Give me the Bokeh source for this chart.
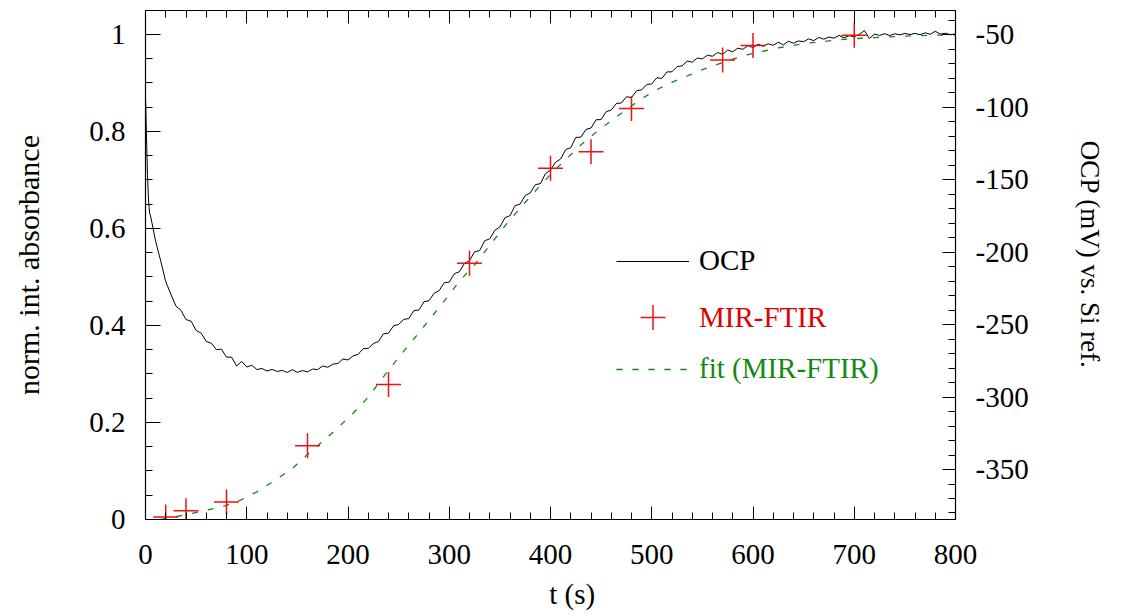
from bokeh.plotting import figure
from bokeh.models import (Range1d, LinearAxis, SingleIntervalTicker,
                          CustomJSTickFormatter, Legend, LegendItem)
from bokeh.embed import file_html
from bokeh.resources import INLINE

# ---------------- data ----------------
# OCP (mV vs. Si ref.)
ocp_t = [0, 1, 2, 3, 4] + list(range(5, 801, 5))
ocp_mv = [
    -92.0, -121.0, -147.0, -164.0, -173.0,
    -175.0, -192.5, -206.0, -220.4, -228.9, -237.2, -240.1, -246.5, -247.6, -254.0,
    -255.9, -261.7, -262.8, -267.3, -266.9, -272.4, -272.5, -278.6, -275.4, -279.3,
    -278.0, -281.0, -280.3, -282.0, -280.9, -282.3, -281.6, -283.0, -281.1, -282.9,
    -281.7, -282.6, -280.7, -281.0, -278.6, -279.4, -277.3, -276.8, -273.7, -274.4,
    -271.6, -270.5, -266.6, -266.4, -263.1, -261.6, -256.4, -255.9, -250.8, -249.9,
    -246.4, -245.8, -240.4, -239.9, -234.2, -233.5, -228.4, -226.6, -221.1, -220.7,
    -214.9, -213.5, -207.8, -205.9, -199.7, -198.9, -192.1, -190.8, -184.9, -182.6,
    -176.2, -174.8, -167.9, -166.8, -160.9, -159.1, -153.4, -152.7, -145.8, -143.3,
    -137.9, -135.7, -129.2, -127.9, -120.8, -120.6, -115.3, -114.3, -108.6, -108.5,
    -103.0, -101.9, -97.4, -97.0, -92.7, -93.3, -88.6, -88.0, -84.3, -83.9,
    -79.6, -80.1, -75.6, -75.5, -72.0, -71.4, -68.1, -68.9, -66.0, -66.6,
    -64.0, -64.8, -62.2, -63.5, -60.5, -61.7, -59.2, -60.0, -57.4, -58.9,
    -56.4, -57.9, -56.2, -57.2, -55.1, -56.9, -54.4, -55.8, -54.2, -54.7,
    -52.8, -54.0, -51.8, -53.0, -51.5, -52.3, -50.4, -52.0, -50.6, -51.3,
    -49.7, -47.0, -52.5, -49.5, -50.4, -49.2, -50.5, -49.3, -50.0, -49.0,
    -49.8, -49.0, -49.9, -48.6, -49.6, -47.5, -49.5, -48.9, -49.9, -49.4,
]

# MIR-FTIR normalised integrated absorbance
ftir_t = [20, 40, 80, 160, 240, 320, 400, 440, 480, 570, 600, 700]
ftir_abs = [0.005, 0.018, 0.036, 0.152, 0.278, 0.528, 0.724, 0.758, 0.847, 0.947, 0.977, 0.998]

# fit (MIR-FTIR)
fit_t = [15, 20, 40, 60, 80, 95, 110, 125, 145, 160, 175, 190, 205, 220, 235, 250,
         265, 280, 295, 310, 325, 340, 355, 370, 385, 400, 415, 430, 445, 460, 475,
         490, 505, 520, 535, 550, 565, 580, 595, 610, 625, 640, 655, 670, 685, 700,
         720, 740, 760, 780, 800]
fit_abs = [0.000, 0.002, 0.010, 0.019, 0.029, 0.041, 0.057, 0.077, 0.105, 0.134,
           0.161, 0.189, 0.219, 0.252, 0.294, 0.334, 0.372, 0.411, 0.450, 0.491,
           0.525, 0.565, 0.605, 0.642, 0.677, 0.711, 0.742, 0.772, 0.798, 0.822,
           0.845, 0.867, 0.886, 0.901, 0.914, 0.927, 0.938, 0.949, 0.958, 0.965,
           0.972, 0.977, 0.982, 0.985, 0.989, 0.991, 0.993, 0.995, 0.997, 0.998,
           0.999]

# ---------------- figure ----------------
FONT = "Liberation Serif"
FS = "29px"
NB = "\u00a0"

p = figure(width=1125, height=615, output_backend="svg", toolbar_location=None,
           x_range=Range1d(0, 800), y_range=Range1d(0, 1.049),
           min_border_left=145, min_border_right=170,
           min_border_top=10, min_border_bottom=96)
p.extra_y_ranges = {"ocp": Range1d(-384.5, -33.2)}
p.xgrid.visible = False
p.ygrid.visible = False
p.outline_line_color = None
p.background_fill_color = "white"
p.border_fill_color = "white"


def style(ax, major_in=13, minor_in=7, label_fs=FS):
    ax.axis_line_color = "black"
    ax.axis_line_width = 1.2
    ax.major_tick_line_color = "black"
    ax.minor_tick_line_color = "black"
    ax.major_tick_in = major_in
    ax.major_tick_out = 0
    ax.minor_tick_in = minor_in
    ax.minor_tick_out = 0
    ax.major_label_text_font = FONT
    ax.major_label_text_font_size = FS
    ax.major_label_text_color = "black"
    ax.axis_label_text_font = FONT
    ax.axis_label_text_font_size = label_fs
    ax.axis_label_text_font_style = "normal"
    ax.axis_label_text_color = "black"


# bottom axis
xax = p.xaxis[0]
xax.ticker = SingleIntervalTicker(interval=100, num_minor_ticks=5)
style(xax)
xax.axis_label = NB * 6 + "t (s)"
xax.major_label_standoff = 25
xax.axis_label_standoff = 11

# left axis
yax = p.yaxis[0]
yax.ticker = SingleIntervalTicker(interval=0.2, num_minor_ticks=4)
yax.formatter = CustomJSTickFormatter(code="return Number(tick.toFixed(2)).toString()")
style(yax, major_in=15, minor_in=7, label_fs="30px")
yax.axis_label = "norm. int. absorbance"
yax.major_label_standoff = 20
yax.axis_label_standoff = 41

# right axis (OCP)
rax = LinearAxis(y_range_name="ocp",
                 ticker=SingleIntervalTicker(interval=50, num_minor_ticks=5),
                 formatter=CustomJSTickFormatter(code="return tick.toString()"))
style(rax, label_fs="27px")
rax.axis_label = "OCP (mV) vs. Si ref." + NB * 3
rax.major_label_standoff = 20
rax.axis_label_standoff = 43
p.add_layout(rax, "right")

# top axis (ticks only)
tax = LinearAxis(ticker=SingleIntervalTicker(interval=100, num_minor_ticks=5),
                 formatter=CustomJSTickFormatter(code="return ''"))
style(tax)
tax.major_label_standoff = 0
p.add_layout(tax, "above")

# ---------------- glyphs ----------------
r_fit = p.line(fit_t, fit_abs, line_color="#118a11", line_width=1.3, line_dash="6 10")
r_ocp = p.line(ocp_t, ocp_mv, y_range_name="ocp", line_color="black", line_width=1)
r_ftir = p.scatter(ftir_t, ftir_abs, marker="cross", size=25,
                   line_color="#ee1111", line_width=1.5)

# ---------------- legends ----------------
def make_legend(label, rend, color, loc, gh):
    lg = Legend(items=[LegendItem(label=label, renderers=[rend])],
                location=loc, glyph_width=73, glyph_height=gh,
                label_height=30, label_standoff=10, padding=0, margin=0,
                border_line_color=None, background_fill_alpha=0,
                label_text_font=FONT, label_text_font_size=FS,
                label_text_color=color)
    p.add_layout(lg)

make_legend("OCP", r_ocp, "black", (471, 242), 30)
make_legend("MIR-FTIR", r_ftir, "#e00000", (471, 171), 62)
make_legend("fit (MIR-FTIR)", r_fit, "#118a11", (471, 134), 30)

open("out.html", "w").write(file_html(p, INLINE))
